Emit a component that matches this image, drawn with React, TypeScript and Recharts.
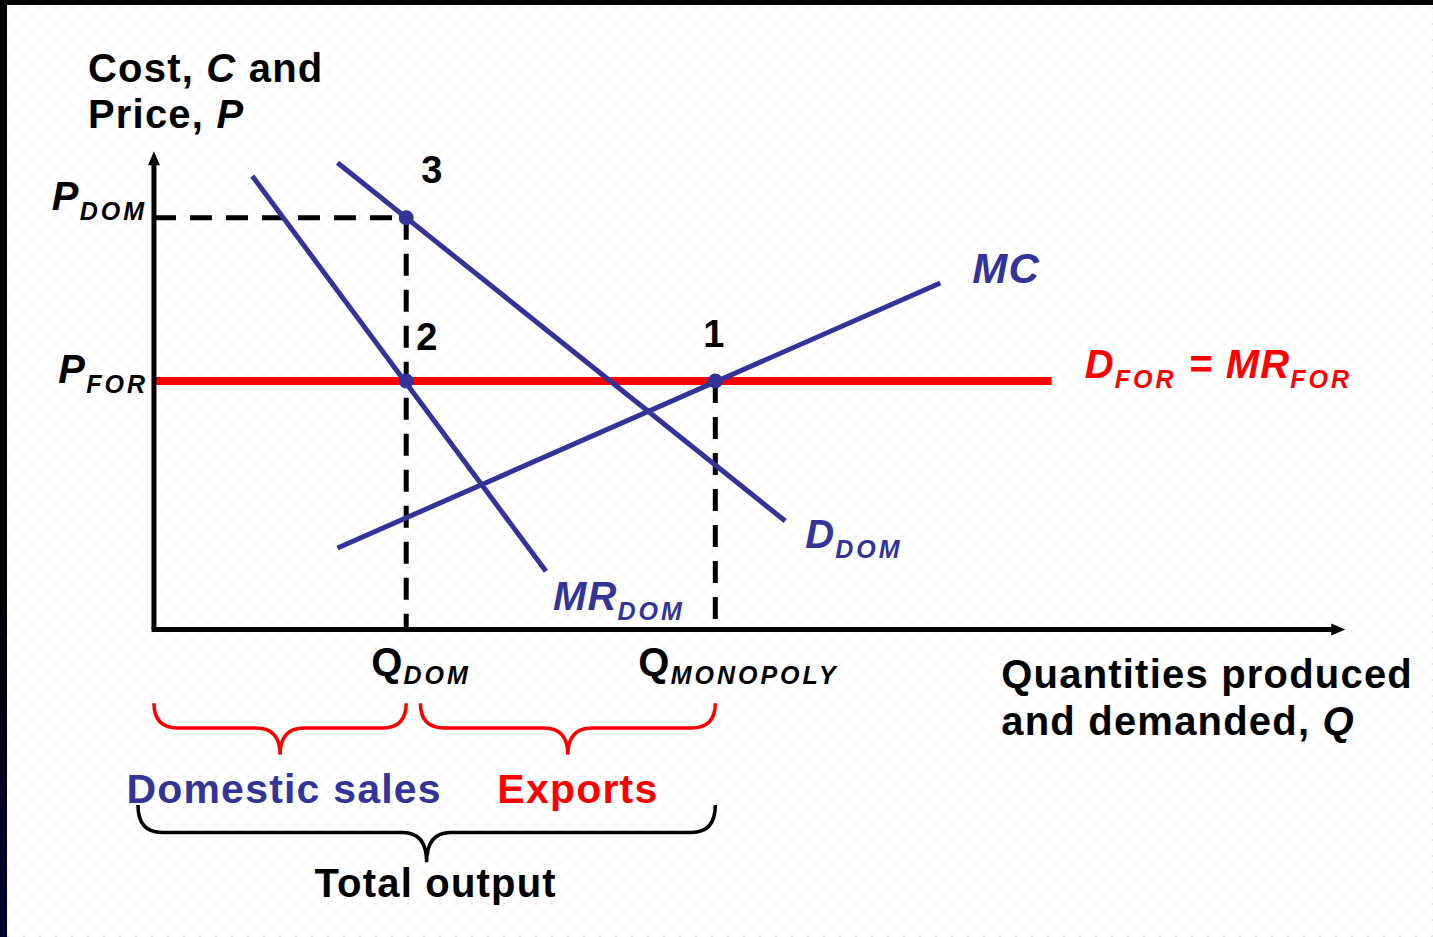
import React from 'react';
import {
  ComposedChart,
  Line,
  XAxis,
  YAxis,
  ReferenceLine,
  ReferenceDot,
  ReferenceArea,
} from 'recharts';

// curves, as (quantity, price) end points
const domesticDemand = [
  { q: 15.5, p: 98.6 },
  { q: 53.3, p: 22.9 },
];
const domesticMR = [
  { q: 8.3, p: 95.8 },
  { q: 33.1, p: 12.3 },
];
const marginalCost = [
  { q: 15.5, p: 17.2 },
  { q: 66.4, p: 73.2 },
];
const foreignDemand = [
  { q: 0, p: 52.5 },
  { q: 75.8, p: 52.5 },
];

// equilibrium values
const qDom = 21.3;
const qMonopoly = 47.4;
const pDom = 87;
const pFor = 52.5;

const BLUE = '#333399';
const RED = '#ff0000';
const FONT = '"Liberation Sans", Arial, sans-serif';

function note(id: string, x: number, y: number, content: React.ReactNode) {
  return (
    <ReferenceDot
      key={id}
      x={x}
      y={y}
      r={1}
      ifOverflow="visible"
      shape={(p: any) => (
        <g transform={`translate(${p.cx},${p.cy})`} fontFamily={FONT} letterSpacing={1.2}>
          {content}
        </g>
      )}
    />
  );
}

function brace(color: string) {
  return (p: any) => {
    const { x, y, width: w, height: h } = p;
    const r = 24;
    const ym = y + h * 0.48;
    const mid = x + w / 2;
    const d =
      `M${x},${y} Q${x},${ym} ${x + r},${ym} L${mid - r},${ym} Q${mid},${ym} ${mid},${y + h} ` +
      `M${mid},${y + h} Q${mid},${ym} ${mid + r},${ym} L${x + w - r},${ym} Q${x + w},${ym} ${x + w},${y}`;
    return <path d={d} fill="none" stroke={color} strokeWidth={3.5} />;
  };
}

function arrow(dir: 'up' | 'right') {
  return (p: any) => {
    const { cx, cy } = p;
    const pts =
      dir === 'up'
        ? `${cx},${cy - 5} ${cx - 6},${cy + 9} ${cx + 6},${cy + 9}`
        : `${cx + 7},${cy} ${cx - 7},${cy - 6} ${cx - 7},${cy + 6}`;
    return <polygon points={pts} fill="#000" />;
  };
}

const sub = (t: string, size = 25, shift = 10) => (
  <tspan fontSize={size} dy={shift} fontStyle="italic" letterSpacing={3}>
    {t}
  </tspan>
);

export default function App() {
  return (
    <div
      style={{
        position: 'absolute',
        top: 0,
        left: 0,
        width: 1433,
        height: 937,
        background: '#fff',
        backgroundImage: 'radial-gradient(#e6e6e6 1px, transparent 1.3px)',
        backgroundSize: '16px 16px',
        overflow: 'hidden',
      }}
    >
      <ComposedChart width={1433} height={937} margin={{ top: 0, right: 0, bottom: 0, left: 0 }}>
        <XAxis type="number" dataKey="q" domain={[-13, 108]} hide allowDataOverflow />
        <YAxis type="number" dataKey="p" domain={[-65, 133]} hide allowDataOverflow />

        {/* dashed guides */}
        <ReferenceLine segment={[{ x: 0, y: pDom }, { x: qDom, y: pDom }]} stroke="#000" strokeWidth={5} strokeDasharray="22 14" />
        <ReferenceLine segment={[{ x: qDom, y: pDom }, { x: qDom, y: 0 }]} stroke="#000" strokeWidth={5} strokeDasharray="22 14" />
        <ReferenceLine segment={[{ x: qMonopoly, y: pFor }, { x: qMonopoly, y: 0 }]} stroke="#000" strokeWidth={5} strokeDasharray="22 14" />

        <Line data={foreignDemand} dataKey="p" type="linear" stroke={RED} strokeWidth={8} dot={false} isAnimationActive={false} />
        <Line data={domesticDemand} dataKey="p" type="linear" stroke={BLUE} strokeWidth={5} dot={false} isAnimationActive={false} />
        <Line data={domesticMR} dataKey="p" type="linear" stroke={BLUE} strokeWidth={5} dot={false} isAnimationActive={false} />
        <Line data={marginalCost} dataKey="p" type="linear" stroke={BLUE} strokeWidth={5} dot={false} isAnimationActive={false} />

        {/* axes */}
        <ReferenceLine segment={[{ x: 0, y: 0 }, { x: 0, y: 99 }]} stroke="#000" strokeWidth={5} />
        <ReferenceLine segment={[{ x: -0.2, y: 0 }, { x: 99.6, y: 0 }]} stroke="#000" strokeWidth={5} />
        <ReferenceDot x={0} y={100} r={1} ifOverflow="visible" shape={arrow('up')} />
        <ReferenceDot x={100} y={0} r={1} ifOverflow="visible" shape={arrow('right')} />

        <ReferenceDot x={qDom} y={pDom} r={7.5} fill={BLUE} stroke="none" />
        <ReferenceDot x={qDom} y={pFor} r={7.5} fill={BLUE} stroke="none" />
        <ReferenceDot x={qMonopoly} y={pFor} r={7.5} fill={BLUE} stroke="none" />

        {/* braces */}
        <ReferenceArea x1={0} x2={qDom} y1={-26.5} y2={-15.6} ifOverflow="visible" shape={brace(RED)} />
        <ReferenceArea x1={22.5} x2={qMonopoly} y1={-26.5} y2={-15.6} ifOverflow="visible" shape={brace(RED)} />
        <ReferenceArea x1={-1.35} x2={qMonopoly} y1={-49.2} y2={-37.1} ifOverflow="visible" shape={brace('#000')} />

        {note('ytitle', 0, 100,
          <text x={-66} y={-74} fontSize={40} fontWeight="bold" fill="#000">
            <tspan>Cost, </tspan>
            <tspan fontStyle="italic">C</tspan>
            <tspan> and</tspan>
            <tspan x={-66} y={-28}>Price, </tspan>
            <tspan fontStyle="italic">P</tspan>
          </text>
        )}
        {note('xtitle', 100, 0,
          <text x={-337} y={59} fontSize={40} fontWeight="bold" fill="#000">
            <tspan>Quantities produced</tspan>
            <tspan x={-337} y={106}>and demanded, </tspan>
            <tspan fontStyle="italic">Q</tspan>
          </text>
        )}
        {note('pdom', 0, pDom,
          <text x={-7} y={-8} textAnchor="end" fontSize={40} fontWeight="bold" fontStyle="italic" fill="#000">
            <tspan>P</tspan>
            {sub('DOM')}
          </text>
        )}
        {note('pfor', 0, pFor,
          <text x={-6} y={2} textAnchor="end" fontSize={40} fontWeight="bold" fontStyle="italic" fill="#000">
            <tspan>P</tspan>
            {sub('FOR')}
          </text>
        )}
        {note('qdom', qDom, 0,
          <text x={-35} y={47} fontSize={40} fontWeight="bold" fill="#000">
            <tspan>Q</tspan>
            {sub('DOM', 25, 8)}
          </text>
        )}
        {note('qmono', qMonopoly, 0,
          <text x={-77} y={47} fontSize={40} fontWeight="bold" fill="#000">
            <tspan>Q</tspan>
            {sub('MONOPOLY', 25, 8)}
          </text>
        )}
        {note('n3', qDom, pDom,
          <text x={15} y={-35} fontSize={38} fontWeight="bold" fill="#000">3</text>
        )}
        {note('n2', qDom, pFor,
          <text x={10} y={-31} fontSize={38} fontWeight="bold" fill="#000">2</text>
        )}
        {note('n1', qMonopoly, pFor,
          <text x={-12} y={-34} fontSize={38} fontWeight="bold" fill="#000">1</text>
        )}
        {note('mc', 66.4, 73.2,
          <text x={32} y={0} fontSize={42} fontWeight="bold" fontStyle="italic" fill={BLUE}>MC</text>
        )}
        {note('ddom', 53.3, 22.9,
          <text x={20} y={27} fontSize={40} fontWeight="bold" fontStyle="italic" fill={BLUE}>
            <tspan>D</tspan>
            {sub('DOM')}
          </text>
        )}
        {note('mrdom', 33.1, 12.3,
          <text x={7} y={39} fontSize={40} fontWeight="bold" fontStyle="italic" fill={BLUE}>
            <tspan>MR</tspan>
            {sub('DOM')}
          </text>
        )}
        {note('dfor', 75.8, pFor,
          <text x={33} y={-3} fontSize={40} fontWeight="bold" fontStyle="italic" fill={RED}>
            <tspan>D</tspan>
            {sub('FOR')}
            <tspan dy={-10}> = MR</tspan>
            {sub('FOR')}
          </text>
        )}
        {note('domestic', qDom / 2, -26.5,
          <text x={4} y={48} textAnchor="middle" fontSize={41} fontWeight="bold" fill={BLUE}>Domestic sales</text>
        )}
        {note('exports', (22.5 + qMonopoly) / 2, -26.5,
          <text x={10} y={48} textAnchor="middle" fontSize={41} fontWeight="bold" fill={RED}>Exports</text>
        )}
        {note('total', (qMonopoly - 1.35) / 2, -49.2,
          <text x={9} y={35} textAnchor="middle" fontSize={40} fontWeight="bold" fill="#000">Total output</text>
        )}
      </ComposedChart>
      {/* slide frame edges */}
      <div style={{ position: 'absolute', top: 0, left: 0, width: 1433, height: 5, background: '#000' }} />
      <div
        style={{
          position: 'absolute',
          top: 0,
          left: 0,
          width: 7,
          height: 937,
          background: 'linear-gradient(#000 0%, #000 60%, #000030 100%)',
        }}
      />
    </div>
  );
}
